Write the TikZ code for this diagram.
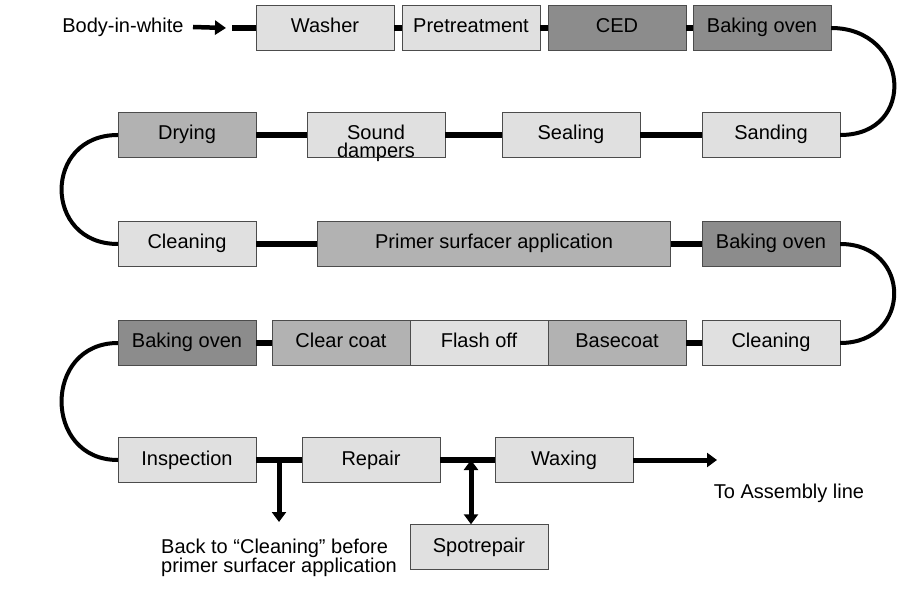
\documentclass[tikz,border=0pt]{standalone}
\usepackage{fontspec}
\setmainfont{Liberation Sans}
\usetikzlibrary{arrows.meta}
\begin{document}
\begin{tikzpicture}[x=1pt, y=-1pt, font=\fontsize{20}{18}\selectfont,
  block/.style={rectangle, draw=black!70, minimum width=138pt, minimum height=45pt, inner sep=1pt, align=center, text height=14pt, text depth=4pt},
  light/.style={fill=black!12}, mid/.style={fill=black!30}, dark/.style={fill=black!45},
  link/.style={line width=6pt},
  turn/.style={line width=4pt},
  bigarrow/.style={line width=5pt, -{Triangle[width=14pt, length=10pt]}}]
  \useasboundingbox (0,0) rectangle (910,593);

  % row 1
  \node[anchor=east] (biw) at (187,27) {Body-in-white};
  \coordinate (biwarr) at (226,28);
  \coordinate (biwbar) at (232,28);
  \node[block, light] (wash)  at (325,28) {Washer};
  \node[block, light] (pret)  at (471,28) {Pretreatment};
  \node[block, dark]  (ced)   at (617,28) {CED};
  \node[block, dark]  (bake1) at (762,28) {Baking oven};
  % row 2
  \node[block, mid]   (dry)   at (187,135) {Drying};
  \node[block, light, text width=120pt] (sound) at (376,135) {Sound\\dampers};
  \node[block, light] (seal)  at (571,135) {Sealing};
  \node[block, light] (sand)  at (771,135) {Sanding};
  % row 3
  \node[block, light] (clean1) at (187,244) {Cleaning};
  \node[block, mid, minimum width=353pt] (primer) at (494,244) {Primer surfacer application};
  \node[block, dark]  (bake2) at (771,244) {Baking oven};
  % row 4
  \node[block, dark]  (bake3) at (187,343) {Baking oven};
  \node[block, mid]   (clear) at (341,343) {Clear coat};
  \node[block, light] (flash) at (479,343) {Flash off};
  \node[block, mid]   (base)  at (617,343) {Basecoat};
  \node[block, light] (clean2) at (771,343) {Cleaning};
  % row 5
  \node[block, light] (insp)  at (187,460) {Inspection};
  \node[block, light] (rep)   at (371,460) {Repair};
  \node[block, light] (wax)   at (564,460) {Waxing};
  \node[block, light] (spot)  at (479,547) {Spotrepair};
  \coordinate (out) at (717,460);
  \coordinate (j1) at (279,460);
  \coordinate (back) at (279,522);
  \coordinate (j2) at (471,460);
  \node (toasm) at (789,493) {To Assembly line};
  \node[align=left] (backtxt) at (279,558) {Back to \textquotedblleft Cleaning\textquotedblright{} before\\primer surfacer application};

  \draw[line width=4.5pt, -{Triangle[width=14pt, length=11pt]}] ([xshift=6pt]biw.east) -- (biwarr);
  \draw[link] (biwbar) -- (wash);
  \draw[link] (wash) -- (pret);
  \draw[link] (pret) -- (ced);
  \draw[link] (ced) -- (bake1);
  \draw[link] (dry) -- (sound);
  \draw[link] (sound) -- (seal);
  \draw[link] (seal) -- (sand);
  \draw[link] (clean1) -- (primer);
  \draw[link] (primer) -- (bake2);
  \draw[link] (bake3) -- (clear);
  \draw[link] (base) -- (clean2);
  \draw[link] (insp) -- (rep);
  \draw[link] (rep) -- (wax);

  \draw[turn] (bake1.east) .. controls +(78,0) and +(78,0) .. (sand.east);
  \draw[turn] (dry.west) .. controls +(-75,0) and +(-75,0) .. (clean1.west);
  \draw[turn] (bake2.east) .. controls +(72,0) and +(72,0) .. (clean2.east);
  \draw[turn] (bake3.west) .. controls +(-75,0) and +(-75,0) .. (insp.west);

  \draw[bigarrow] (wax) -- (out);
  \draw[bigarrow] (j1) -- (back);
  \draw[line width=5pt, {Triangle[width=14pt, length=10pt]}-{Triangle[width=14pt, length=10pt]}] (j2) -- (spot.north -| j2);
\end{tikzpicture}
\end{document}
